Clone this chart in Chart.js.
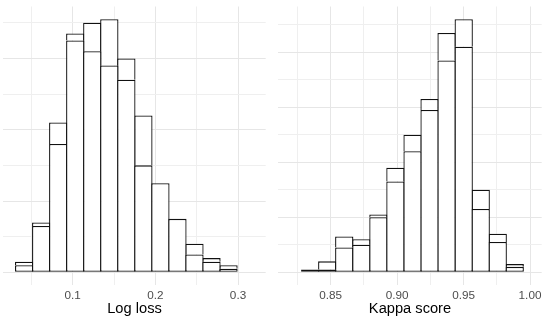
<!DOCTYPE html>
<html>
<head>
<meta charset="utf-8">
<script src="https://cdn.jsdelivr.net/npm/chart.js@4/dist/chart.umd.min.js"></script>
<style>
  html, body { margin: 0; padding: 0; background: #ffffff; }
  #wrap { position: relative; width: 550px; height: 324px; }
  .panel { position: absolute; top: 0; width: 275px; height: 324px; }
  #p1 { left: 0; }
  #p2 { left: 275px; }
</style>
</head>
<body>
<div id="wrap">
  <div class="panel" id="p1"><canvas id="c1" width="275" height="324"></canvas></div>
  <div class="panel" id="p2"><canvas id="c2" width="275" height="324"></canvas></div>
</div>
<script>
// ---- Data ----
// Left panel: Log loss histogram, bin centres
const logLossBins = [0.0413, 0.0619, 0.0825, 0.1031, 0.1237, 0.1443, 0.1649,
                     0.1855, 0.2061, 0.2267, 0.2473, 0.2679, 0.2885];
const logLossLower = [2, 13, 36, 65, 62, 58, 54, 30, 25, 15, 5, 3, 1];
const logLossUpper = [1, 1, 6, 2, 8, 13, 6, 14, 0, 0, 3, 1, 1];
const logLossTicks = [0.1, 0.2, 0.3];
const logLossRange = [0.01603, 0.3335];

// Right panel: Kappa score histogram, bin centres
const kappaBins = [0.8346, 0.8474, 0.8602, 0.8731, 0.8859, 0.8987, 0.9116,
                   0.9244, 0.9372, 0.9501, 0.9629, 0.9757, 0.9885];
const kappaLower = [1, 1, 9, 10, 20, 33, 44, 59, 77, 82, 23, 11, 2];
const kappaUpper = [0, 3, 4, 2, 1, 5, 6, 4, 10, 10, 7, 3, 1];
const kappaTicks = [0.85, 0.90, 0.95, 1.00];
const kappaRange = [0.81056, 1.0088];

const countGridStep = 10;
const countMajorStep = 20;

// ---- Chart construction ----
const FONT = "'Liberation Sans', Arial, Helvetica, sans-serif";
const BW = 1.3;

function isIn(list, v) {
  return list.some(t => Math.abs(t - v) < 1e-6);
}

function makeHist(canvasId, bins, lower, upper, majorTicks, range, xStep, decimals, title, pad) {
  const totals = lower.map((v, i) => v + upper[i]);
  const maxTotal = Math.max(...totals);
  const toPts = arr => arr.map((v, i) => ({ x: bins[i], y: v }));
  const gridColor = (major) => major ? '#E6E6E6' : '#EFEFEF';
  const barPct = 1 + BW / 17.03;

  new Chart(document.getElementById(canvasId), {
    type: 'bar',
    data: {
      datasets: [
        {
          label: 'lower',
          data: toPts(lower),
          backgroundColor: '#ffffff',
          borderColor: '#111111',
          borderWidth: { top: BW, bottom: BW, left: BW, right: BW },
          borderSkipped: false,
          inflateAmount: 0,
          barPercentage: barPct,
          categoryPercentage: 1.0
        },
        {
          label: 'upper',
          data: toPts(upper),
          backgroundColor: '#ffffff',
          borderColor: '#111111',
          borderWidth: { top: BW, bottom: 0, left: BW, right: BW },
          borderSkipped: false,
          inflateAmount: 0,
          barPercentage: barPct,
          categoryPercentage: 1.0
        }
      ]
    },
    options: {
      responsive: false,
      animation: false,
      devicePixelRatio: 1,
      layout: { padding: pad },
      plugins: { legend: { display: false }, tooltip: { enabled: false } },
      scales: {
        x: {
          type: 'linear',
          stacked: true,
          offset: false,
          min: range[0],
          max: range[1],
          border: { display: false },
          grid: {
            offset: false,
            drawTicks: false,
            color: c => gridColor(isIn(majorTicks, c.tick.value)),
            lineWidth: 1
          },
          ticks: {
            stepSize: xStep,
            includeBounds: false,
            autoSkip: false,
            maxRotation: 0,
            padding: 3.5,
            color: '#4D4D4D',
            font: { family: FONT, size: 11.73 },
            callback: v => isIn(majorTicks, v) ? Number(v).toFixed(decimals) : ''
          },
          title: {
            display: true,
            text: title,
            color: '#000000',
            font: { family: FONT, size: 14.67 },
            padding: { top: 0, bottom: 5.9 }
          },
          afterFit: s => { s.height = 39; }
        },
        y: {
          type: 'linear',
          stacked: true,
          min: -0.05 * maxTotal,
          max: 1.05 * maxTotal,
          border: { display: false },
          grid: {
            drawTicks: false,
            color: c => gridColor(Math.abs(c.tick.value % countMajorStep) < 1e-6),
            lineWidth: 1
          },
          ticks: { display: false, stepSize: countGridStep, includeBounds: false },
          afterFit: s => { s.width = 0; }
        }
      }
    }
  });
}

makeHist('c1', logLossBins, logLossLower, logLossUpper, logLossTicks, logLossRange,
         0.05, 1, 'Log loss', { top: 6.5, left: 3.3, right: 9.3, bottom: 0 });
makeHist('c2', kappaBins, kappaLower, kappaUpper, kappaTicks, kappaRange,
         0.025, 2, 'Kappa score', { top: 6.5, left: 3.3, right: 8.3, bottom: 0 });
</script>
</body>
</html>
